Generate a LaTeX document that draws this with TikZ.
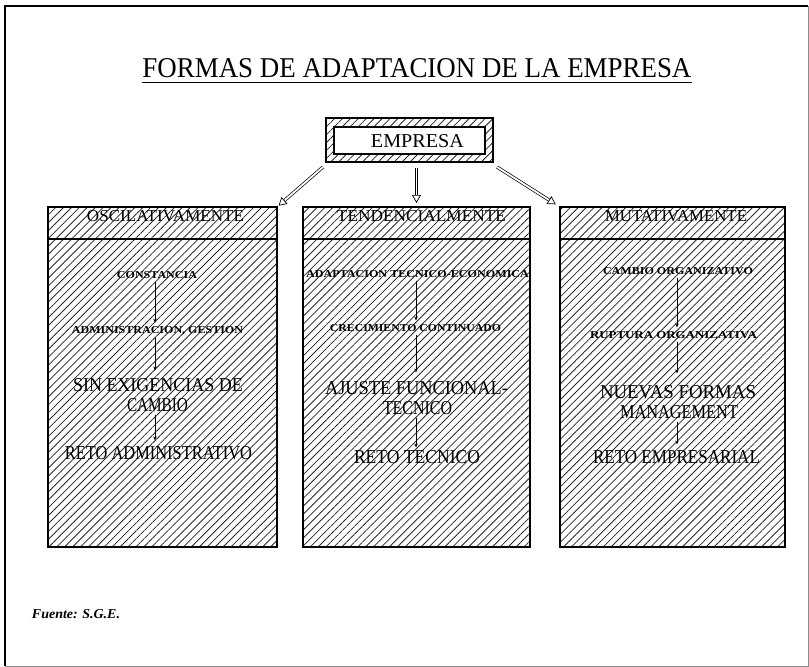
\documentclass[tikz,border=0pt]{standalone}
\usepackage{fontspec}
\setmainfont{Liberation Serif}
\usetikzlibrary{patterns.meta,arrows.meta}
\newcommand\fitbox[3]{\resizebox{#1pt}{#2pt}{#3}}
\begin{document}
\begin{tikzpicture}[x=1pt,y=-1pt,
  hatch/.style={draw=black, line width=1.1pt, inner sep=0pt, outer sep=0pt,
    pattern={Lines[angle=45,distance=5.6pt,line width=0.8pt]}, pattern color=black!85},
  txt/.style={inner sep=0pt, outer sep=0pt, anchor=center},
  flow/.style={-{Stealth[length=4pt,width=3.5pt]}, line width=0.8pt, shorten <=3pt, shorten >=4pt},
  big/.style={double, double distance=1.8pt, line width=0.7pt,
    -{Triangle[open,length=8pt,width=9pt]}}
]
\useasboundingbox (0,0) rectangle (809,667);
% outer frame
\draw[line width=1.6pt] (5,666) -- (5,6) -- (808,6);
\draw[line width=0.6pt, black!45] (808,6) -- (808,666) -- (5,666);

% title
\node[txt] (title) at (417,68) {\fitbox{549}{19}{FORMAS DE ADAPTACION DE LA EMPRESA}};
\draw[line width=1.6pt] ([yshift=-5pt]title.south west) -- ([yshift=-5pt]title.south east);

% EMPRESA
\node[hatch, minimum width=167pt, minimum height=44pt] (emp) at (409.5,140) {};
\node[draw=black, line width=1.2pt, fill=white, minimum width=151pt, minimum height=27pt, inner sep=0pt] (empin) at (409.5,140.5) {};
\node[txt] (empt) at (417.5,141) {\fitbox{93}{13}{EMPRESA}};

% three columns
\node[hatch, anchor=north west, minimum width=229pt, minimum height=340pt] (osc) at (48,207) {};
\node[hatch, anchor=north west, minimum width=227pt, minimum height=340pt] (ten) at (303,207) {};
\node[hatch, anchor=north west, minimum width=225pt, minimum height=340pt] (mut) at (560,207) {};
\draw[line width=1.6pt] ([yshift=-32pt]osc.north west) -- ([yshift=-32pt]osc.north east);
\draw[line width=1.6pt] ([yshift=-32pt]ten.north west) -- ([yshift=-32pt]ten.north east);
\draw[line width=1.6pt] ([yshift=-32pt]mut.north west) -- ([yshift=-32pt]mut.north east);

% big arrows
\draw[big, shorten >=2pt] ([xshift=-3pt,yshift=-5pt]emp.south west) -- (osc.north east);
\coordinate (ms) at (emp.south -| ten.north);
\draw[big, shorten <=6pt, shorten >=4pt] (ms) -- (ten.north);
\draw[big, shorten >=5pt] ([xshift=4pt,yshift=-5pt]emp.south east) -- (mut.north west);

% left column
\node[txt] (oh) at (165.5,216) {\fitbox{157}{11}{OSCILATIVAMENTE}};
\node[txt] (o1) at (157,275) {\fitbox{80}{7}{\bfseries CONSTANCIA}};
\node[txt] (o2) at (157.5,331) {\fitbox{171}{7}{\bfseries ADMINISTRACION, GESTION}};
\node[txt] (o3) at (158,385) {\fitbox{170}{13}{SIN EXIGENCIAS DE}};
\node[txt] (o3b) at (157.5,405) {\fitbox{61}{13}{CAMBIO}};
\node[txt] (o4) at (158.5,453) {\fitbox{187}{13}{RETO ADMINISTRATIVO}};
\coordinate (ox) at (155,0);
\draw[flow] (o1.south -| ox) -- (o2.north -| ox);
\draw[flow, shorten >=8pt] (o2.south -| ox) -- (o3.north -| ox);
\draw[flow, shorten >=6pt] (o3b.south -| ox) -- (o4.north -| ox);

% middle column
\node[txt] (th) at (421.5,216) {\fitbox{169}{11}{TENDENCIALMENTE}};
\node[txt] (t1) at (417.5,274) {\fitbox{223}{7}{\bfseries ADAPTACION TECNICO-ECONOMICA}};
\node[txt] (t2) at (415.5,328) {\fitbox{171}{7}{\bfseries CRECIMIENTO CONTINUADO}};
\node[txt] (t3) at (416.5,388) {\fitbox{183}{13}{AJUSTE FUNCIONAL-}};
\node[txt] (t3b) at (417.5,408) {\fitbox{69}{13}{TECNICO}};
\node[txt] (t4) at (417,457) {\fitbox{126}{13}{RETO TECNICO}};
\coordinate (tx) at (416,0);
\draw[flow] (t1.south -| tx) -- (t2.north -| tx);
\draw[flow, shorten >=9pt] (t2.south -| tx) -- (t3.north -| tx);
\draw[flow, shorten >=3pt] (t3b.south -| tx) -- (t4.north -| tx);

% right column
\node[txt] (mh) at (676,216) {\fitbox{142}{11}{MUTATIVAMENTE}};
\node[txt] (m1) at (678,271) {\fitbox{150}{7}{\bfseries CAMBIO ORGANIZATIVO}};
\node[txt] (m2) at (673.5,335) {\fitbox{167}{7}{\bfseries RUPTURA ORGANIZATIVA}};
\node[txt] (m3) at (678,392) {\fitbox{156}{13}{NUEVAS FORMAS}};
\node[txt] (m3b) at (679,412) {\fitbox{118}{13}{MANAGEMENT}};
\node[txt] (m4) at (676.5,457) {\fitbox{167}{13}{RETO EMPRESARIAL}};
\coordinate (mx) at (677,0);
\draw[flow] (m1.south -| mx) -- (m2.north -| mx);
\draw[flow, shorten >=12pt] (m2.south -| mx) -- (m3.north -| mx);
\draw[flow, shorten >=6pt] (m3b.south -| mx) -- (m4.north -| mx);

% source
\node[txt] (src) at (76,614) {\fitbox{88}{9}{\bfseries\itshape Fuente: S.G.E.}};
\end{tikzpicture}
\end{document}
